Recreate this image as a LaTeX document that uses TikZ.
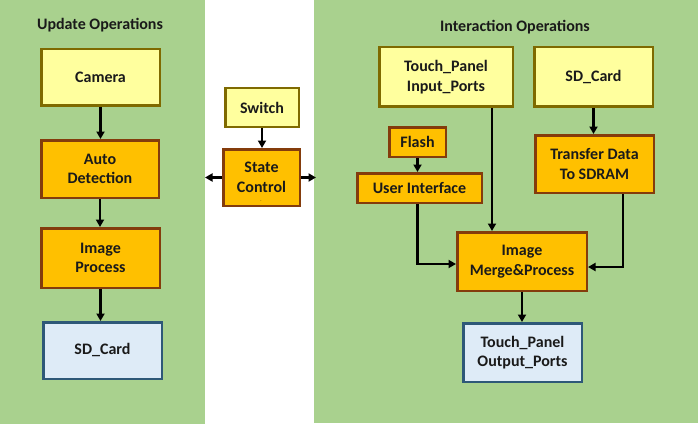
\documentclass[tikz,border=0pt]{standalone}
\usepackage{fontspec}
\setmainfont{Carlito}
\usetikzlibrary{arrows.meta}

\definecolor{panelgreen}{HTML}{A9D18E}
\definecolor{lyellow}{HTML}{FFFF9E}
\definecolor{olive}{HTML}{7F6A00}
\definecolor{amber}{HTML}{FFC000}
\definecolor{rust}{HTML}{843C0C}
\definecolor{lblue}{HTML}{DEEBF7}
\definecolor{navy}{HTML}{2E5878}
\definecolor{ink}{HTML}{1A1A1A}

\begin{document}
\begin{tikzpicture}[x=1pt, y=-1pt,
	txt/.style={text=ink, font=\bfseries\fontsize{16}{19.5}\selectfont, align=center},
	sz/.style 2 args={minimum width=#1, minimum height=#2},
	inbox/.style={txt, draw=olive, fill=lyellow, line width=2.5pt, inner sep=0pt},
	opbox/.style={txt, draw=rust, fill=amber, line width=2.5pt, inner sep=0pt},
	outbox/.style={txt, draw=navy, fill=lblue, line width=2.5pt, inner sep=0pt},
	conn/.style={-{Triangle[length=7.5pt,width=8pt]}, line width=2.4pt, black}]

	\useasboundingbox (0,0) rectangle (698,425);
	\fill [white] (0,0) rectangle (698,425);
	\fill [panelgreen] (0,0) rectangle (205,424);
	\fill [panelgreen] (314,0) rectangle (698,423);

	% update side
	\node [txt] (updt) at (100,25) {Update Operations};
	\node [inbox, sz={118.5}{56.5}] (cam) at (100.5,77.5) {Camera};
	\node [opbox, sz={117.5}{57.5}] (adt) at (100,169) {Auto\\Detection};
	\node [opbox, sz={118.5}{59.5}] (imp) at (100.5,258) {Image\\Process};
	\node [outbox, sz={118.5}{56.5}] (sdl) at (102.5,350.5) {SD\_Card};

	\draw [conn] (cam.south) -- (cam.south |- adt.north);
	\draw [conn] (adt.south) -- (adt.south |- imp.north);
	\draw [conn] (imp.south) -- (imp.south |- sdl.north);

	% state control
	\node [inbox, sz={73.5}{38.5}] (swt) at (262,107.5) {Switch};
	\node [opbox, sz={76.5}{56.5}] (stc) at (261.5,177.5) {State\\Control};
	\node [text=ink, font=\tiny, inner sep=0pt, anchor=base] (stcdot) at (261,201) {.};
	\coordinate (lft) at (205,177.5);
	\coordinate (rgt) at (316,177.5);

	\draw [conn] (swt.south) -- (swt.south |- stc.north);
	\draw [conn] (stc) -- (lft);
	\draw [conn] (stc) -- (rgt);

	% interaction side
	\node [txt] (intr) at (515,27) {Interaction Operations};
	\node [inbox, sz={133.5}{59.5}] (tpin) at (446,77) {Touch\_Panel\\Input\_Ports};
	\node [inbox, sz={118.5}{59.5}] (sdr) at (593.5,77) {SD\_Card};
	\node [opbox, sz={56.5}{29.5}] (fls) at (417.5,142) {Flash};
	\node [opbox, sz={124.5}{29.5}] (ui) at (419.5,188) {User Interface};
	\node [opbox, sz={118.5}{57.5}] (trf) at (594.5,164) {Transfer Data\\To SDRAM};
	\node [opbox, sz={129.5}{58.5}] (mrg) at (522,261.5) {Image\\Merge\&Process};
	\node [outbox, sz={118.5}{58.5}] (tpout) at (522.5,352.5) {Touch\_Panel\\Output\_Ports};

	\draw [conn] (sdr.south) -- (sdr.south |- trf.north);
	\draw [conn] (fls.south) -- (fls.south |- ui.north);
	\draw [conn] ([xshift=-22pt]tpin.south east) -- ([xshift=-22pt]tpin.south east |- mrg.north);
	\draw [conn] ([xshift=-2pt]ui.south) |- ([yshift=-2.5pt]mrg.west);
	\draw [conn] ([xshift=28.5pt]trf.south) |- ([yshift=-5.5pt]mrg.east);
	\draw [conn] (mrg.south) -- (mrg.south |- tpout.north);

\end{tikzpicture}
\end{document}
